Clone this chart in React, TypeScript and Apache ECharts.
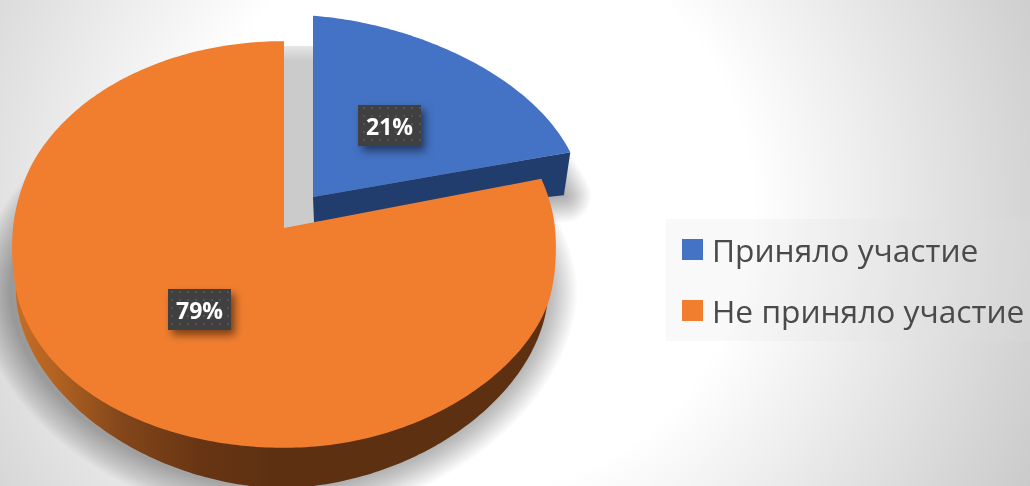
import React, { useEffect, useRef } from "react";
import * as echarts from "echarts";

const categories = ["Приняло участие", "Не приняло участие"];
const sliceValues = [21, 79];
const sliceColors = ["#4472c4", "#f17e2f"];
const percentLabels = ["21%", "79%"];

const CX = 284, AY = 228, RX = 271, RY = 202, PERSP = 0.081;
const total = sliceValues.reduce((a, b) => a + b, 0);
const BLUE_OX = 29, BLUE_OY = -31, BLUE_SY = 0.97;
const labelPos = [[389.5, 125.5], [199.5, 309.5]];

type P = [number, number];

function sliceAngles(idx: number) {
  let acc = 0;
  for (let i = 0; i < idx; i++) acc += sliceValues[i];
  return [(acc / total) * Math.PI * 2, ((acc + sliceValues[idx]) / total) * Math.PI * 2];
}
function base(theta: number, sy = 1): P {
  const u = Math.sin(theta), v = Math.cos(theta);
  const w = 1 + PERSP * v;
  return [(RX * u) / w, -(sy * RY * v) / w];
}
// top face rim of the large slice
function orangeRim(theta: number): P {
  const u = Math.sin(theta), v = Math.cos(theta);
  const [x, y] = base(theta);
  let bump = 0;
  if (v >= 0) bump = u < 0 ? -4.5 * u * u * Math.min(1, v / 0.3) : 0;
  else bump = (u < 0 ? 14 * u * u : 14 * Math.pow(u, 6)) * Math.min(1, -v / 0.3);
  return [CX + x, AY + y + bump];
}
// outer edge of the large slice's wall
function orangeLow(theta: number, grow = 0, shift = 0): P {
  const u = Math.sin(theta), v = Math.cos(theta);
  const e = 2 / 1.85;
  return [
    282 + shift + (266 + grow) * Math.sign(u) * Math.pow(Math.abs(u), e),
    292 - (196 + grow) * Math.sign(v) * Math.pow(Math.abs(v), e),
  ];
}
// top face rim of the exploded slice
function blueRim(theta: number): P {
  const end = sliceAngles(0)[1];
  const [x, y] = base(theta, BLUE_SY);
  const f = theta / end;
  return [CX + BLUE_OX + x, AY + BLUE_OY + y + 3 * f + 7 * Math.sin(Math.PI * f)];
}
function blueLow(theta: number, grow = 0): P {
  const p = blueRim(theta);
  const ax = CX + BLUE_OX;
  return [ax + (p[0] - ax) * 0.975 + grow * Math.sin(theta), p[1] + 43 - grow * Math.cos(theta)];
}
function arc(a: number, b: number, f: (t: number) => P): P[] {
  const n = Math.max(2, Math.ceil(Math.abs(b - a) * 60));
  const out: P[] = [];
  for (let i = 0; i <= n; i++) out.push(f(a + ((b - a) * i) / n));
  return out;
}

function dotPattern() {
  const c = document.createElement("canvas");
  c.width = 8; c.height = 8;
  const g = c.getContext("2d")!;
  g.fillStyle = "#404040";
  g.fillRect(0, 0, 8, 8);
  g.fillStyle = "#525252";
  g.fillRect(3, 3, 2, 2);
  return c;
}

function labelBox(cx: number, cy: number, text: string, pattern: any) {
  const w = 63, h = 41;
  return [
    { type: "rect", shape: { x: cx - w / 2, y: cy - h / 2, width: w, height: h }, style: { fill: "#404040", shadowBlur: 8, shadowOffsetX: 4, shadowOffsetY: 5, shadowColor: "rgba(0,0,0,0.5)" } },
    { type: "rect", shape: { x: cx - w / 2, y: cy - h / 2, width: w, height: h }, style: { fill: { image: pattern, repeat: "repeat" } } },
    { type: "text", style: { x: cx, y: cy + 0.5, text, fill: "#ffffff", font: "bold 23px 'Open Sans'", align: "center", verticalAlign: "middle" } },
  ];
}

const sliceSeries = (idx: number, pattern: any) => ({
  type: "custom",
  name: categories[idx],
  coordinateSystem: "none",
  z: 3,
  silent: true,
  itemStyle: { color: sliceColors[idx] },
  data: [sliceValues[idx]],
  renderItem: () => {
    const [a, b] = sliceAngles(idx);
    const children: any[] = [];
    if (idx === 0) {
      const top = arc(a, b, blueRim);
      const apex: P = [CX + BLUE_OX, AY + BLUE_OY];
      children.push({
        type: "polygon",
        shape: { points: [apex, top[top.length - 1], blueLow(b), [apex[0] + 1, apex[1] + 25]] },
        style: { fill: "#213d6e" },
      });
      children.push({ type: "polygon", shape: { points: [apex, ...top] }, style: { fill: sliceColors[0] } });
    } else {
      const top = arc(a, b, orangeRim);
      children.push({
        type: "polygon",
        shape: { points: arc(Math.PI / 2 - 0.15, Math.PI * 1.5 + 0.2, (t) => orangeLow(t)) },
        style: {
          fill: new echarts.graphic.LinearGradient(0, 0, 1, 0, [
            { offset: 0, color: "#c56d26" },
            { offset: 0.08, color: "#b06121" },
            { offset: 0.2, color: "#82461a" },
            { offset: 0.345, color: "#683513" },
            { offset: 0.48, color: "#5e3012" },
            { offset: 1, color: "#5e3012" },
          ]),
        },
      });
      children.push({ type: "polygon", shape: { points: [[CX, AY], ...top] }, style: { fill: sliceColors[1] } });
    }
    children.push(...labelBox(labelPos[idx][0], labelPos[idx][1], percentLabels[idx], pattern));
    return { type: "group", children };
  },
});

const shadowSeries = {
  type: "custom",
  name: "shadow",
  coordinateSystem: "none",
  z: 2,
  silent: true,
  data: [total],
  renderItem: () => {
    const children: any[] = [];
    const [a0, b0] = sliceAngles(0);
    const apex: P = [CX + BLUE_OX + 1, AY + BLUE_OY + 25];
    const corner = blueLow(b0);
    for (let d = 34; d >= 2; d -= 2) {
      const style = { fill: "rgba(0,0,0,0.02)" };
      children.push({
        type: "polygon",
        shape: { points: arc(0, Math.PI * 2, (t) => orangeLow(t, d, -5)) },
        style,
      });
      const bd = d * 0.8;
      children.push({
        type: "polygon",
        shape: {
          points: [
            [apex[0], apex[1] + bd],
            ...arc(a0, b0, (t) => blueLow(t, bd)),
            ...arc(b0, b0 + Math.PI / 2, (t) => [corner[0] + bd * Math.sin(t), corner[1] - bd * Math.cos(t)] as P),
          ],
        },
        style,
      });
    }
    children.push({
      type: "polygon",
      shape: { points: [[284, 46], [313, 46], [314, 225], [284, 228]] },
      style: {
        fill: new echarts.graphic.LinearGradient(0, 0, 0, 1, [
          { offset: 0, color: "#e6e6e6" },
          { offset: 0.08, color: "#cbcbcb" },
          { offset: 1, color: "#cbcbcb" },
        ]),
      },
    });
    return { type: "group", children };
  },
};

export default function App() {
  const ref = useRef<HTMLDivElement>(null);
  useEffect(() => {
    const chart = echarts.init(ref.current!, null, { renderer: "svg" });
    const pattern = dotPattern();
    chart.setOption({
      animation: false,
      backgroundColor: {
        type: "radial",
        global: true,
        x: 470,
        y: 210,
        r: 640,
        colorStops: [
          { offset: 0, color: "#ffffff" },
          { offset: 0.44, color: "#ffffff" },
          { offset: 1, color: "#c8c8c8" },
        ],
      },
      graphic: [
        { type: "rect", z: 1, shape: { x: 666, y: 219, width: 364, height: 122 }, style: { fill: "rgba(225,225,225,0.2)" }, silent: true },
      ],
      legend: {
        data: categories,
        orient: "vertical",
        left: 677,
        top: 224.5,
        itemWidth: 21,
        itemHeight: 21,
        itemGap: 21,
        icon: "rect",
        textStyle: { fontFamily: "'Open Sans'", fontSize: 31.7, color: "#4a4a4a", lineHeight: 40, padding: [0, 0, 0, 4] },
      },
      series: [sliceSeries(0, pattern), sliceSeries(1, pattern), shadowSeries],
    });
    return () => chart.dispose();
  }, []);
  return <div ref={ref} style={{ position: "fixed", left: 0, top: 0, width: 1030, height: 486 }} />;
}
